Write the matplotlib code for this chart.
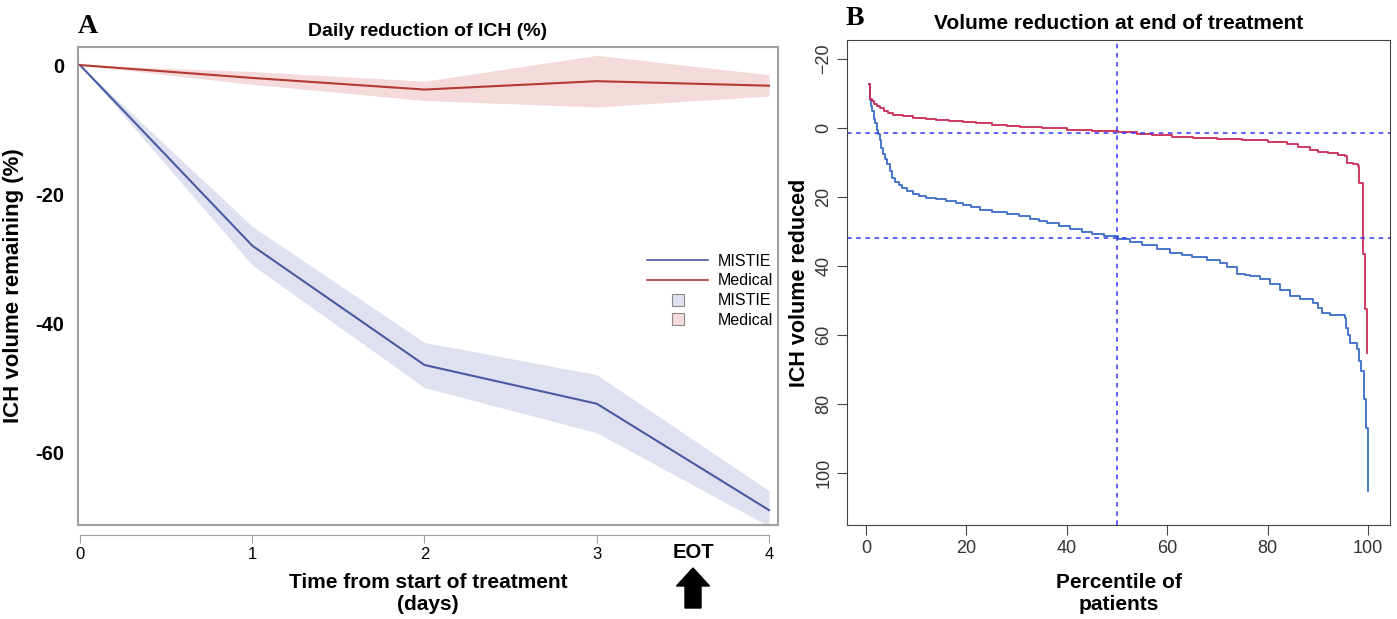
import numpy as np
import matplotlib
matplotlib.use("Agg")
import matplotlib.pyplot as plt
from matplotlib.lines import Line2D
from matplotlib.patches import Rectangle, FancyArrow

plt.rcParams['font.family'] = ['Liberation Sans', 'DejaVu Sans']

# --- Panel A data: daily reduction of ICH (%) ---
days = [0, 1, 2, 3, 4]
mistie_mean = [0, -28, -46.5, -52.5, -69]
mistie_hi = [0, -25, -43, -48, -66]
mistie_lo = [0, -31, -50, -57, -71.5]
medical_mean = [0, -2, -3.8, -2.5, -3.2]
medical_hi = [0, -1, -2.5, 1.5, -1.5]
medical_lo = [0, -3, -5.5, -6.5, -4.8]

# --- Panel B data: volume reduced by percentile of patients ---
mistie_pct = [0.5, 0.7, 1.0, 1.2, 1.5, 1.8, 2.1, 2.4, 2.7, 3.0, 3.4, 3.8, 4.2, 4.7,
              5.2, 5.8, 6.5, 7.2, 8.2, 9.4, 10.5, 12, 14, 16, 18, 19.3, 21, 22.7, 25,
              28, 30.5, 32.7, 34.5, 36, 38.5, 40.6, 43, 45, 47.5, 50.2, 52.5, 55, 58,
              60.6, 63, 65, 68, 70.5, 72, 73.9, 75.5, 76.5, 78.5, 80.5, 82.5, 84.5,
              86.5, 89, 90, 90.8, 92.5, 95.4, 95.6, 96, 96.4, 97.8, 98.2, 98.6, 99.2,
              99.6, 100]
mistie_red = [-12.8, -8, -6.5, -5, -2.5, -1.4, 0.5, 1.7, 3.5, 5.8, 7.5, 9, 10.4, 12.5,
              14.5, 15.5, 16.5, 17.4, 18.3, 19.1, 19.6, 20.2, 20.7, 21.2, 21.8, 22.3,
              23, 23.8, 24.3, 24.9, 25.6, 26.4, 27, 27.5, 28.3, 29.3, 30, 30.7, 31.4,
              32.2, 33, 34, 35, 36.2, 36.9, 37.5, 38.3, 39.1, 40.2, 42.3, 42.6, 42.9,
              43.8, 45.2, 47, 48.7, 49.5, 50.7, 52, 53.6, 54.3, 55, 58, 60, 62.3, 64,
              67.5, 70.4, 78.5, 87, 105.2]
medical_pct = [0.5, 0.7, 1.1, 1.5, 2.2, 2.8, 3.5, 4.3, 5.4, 7.3, 9.4, 12, 14, 16.5,
               19.3, 22, 25, 28, 30.7, 35, 40, 45, 50.2, 54, 57, 61, 65.1, 70, 75, 80,
               83.9, 86, 88.4, 90, 92, 94, 95.4, 95.8, 97.0, 98.0, 98.3, 99.0, 99.4,
               99.8]
medical_red = [-12.8, -8.4, -7.8, -7, -6.4, -5.8, -5, -4.3, -3.8, -3.4, -2.9, -2.6,
               -2.3, -2, -1.7, -1.4, -1, -0.6, -0.3, 0.1, 0.5, 0.9, 1.3, 1.7, 2, 2.5,
               2.9, 3.2, 3.6, 4.1, 4.6, 5.5, 6.4, 6.9, 7.3, 7.7, 8.1, 10.1, 10.5, 11.0,
               15.9, 36.5, 52.5, 65.2]
median_pct = 50
median_mistie = 32
median_medical = 1.5

fig = plt.figure(figsize=(13.97, 6.19), dpi=100)

# ---------------- Panel A ----------------
axA = fig.add_axes([0.0558, 0.1519, 0.5011, 0.7722])
axA.fill_between(days, mistie_lo, mistie_hi, color='#dfe1f0', lw=0)
axA.fill_between(days, medical_lo, medical_hi, color='#f5dadb', lw=0)
axA.plot(days, mistie_mean, color='#4a5aa0', lw=1.5)
axA.plot(days, medical_mean, color='#b23a35', lw=1.5)
axA.set_xlim(-0.0116, 4.052)
axA.set_ylim(-71.3, 2.8)
axA.set_yticks([0, -20, -40, -60])
axA.set_yticklabels(['0', '-20', '-40', '-60'], fontweight='bold', fontsize=14.5)
axA.tick_params(axis='y', length=0, pad=10)
axA.set_xticks(days)
axA.tick_params(axis='x', length=6, color='#a0a0a0', labelsize=12, pad=3)
for s in ['left', 'top', 'right']:
    axA.spines[s].set_visible(False)
axA.spines['bottom'].set_position(('outward', 7))
axA.spines['bottom'].set_bounds(0, 4)
axA.spines['bottom'].set_color('#a0a0a0')
axA.add_patch(Rectangle((0, 0), 1, 1, transform=axA.transAxes, fill=False,
                        edgecolor='#a0a0a0', lw=1.5, clip_on=False))
axA.set_title('Daily reduction of ICH (%)', fontweight='bold', fontsize=14, pad=8)
axA.set_ylabel('ICH volume remaining (%)', fontweight='bold', fontsize=16, labelpad=8)
axA.set_xlabel('Time from start of treatment\n(days)', fontweight='bold', fontsize=15,
               labelpad=8, linespacing=1.2)
handles = [Line2D([], [], color='#4a5aa0', lw=1.2),
           Line2D([], [], color='#b23a35', lw=1.2),
           Line2D([], [], marker='s', ls='none', markersize=9,
                  markerfacecolor='#dfe1f0', markeredgecolor='#888888', markeredgewidth=0.8),
           Line2D([], [], marker='s', ls='none', markersize=9,
                  markerfacecolor='#f5dadb', markeredgecolor='#888888', markeredgewidth=0.8)]
axA.legend(handles, ['MISTIE', 'Medical', 'MISTIE', 'Medical'], loc='center left',
           bbox_to_anchor=(0.802, 0.49), frameon=False, fontsize=11.5,
           handlelength=3.8, handletextpad=0.6, labelspacing=0.3, borderpad=0)
axA.text(3.56, -75.6, 'EOT', ha='center', va='center', fontweight='bold', fontsize=14.5,
         clip_on=False)
fig.add_artist(FancyArrow(6.93, 0.11, 0, 0.22, width=0.16, head_width=0.33,
                          head_length=0.18, color='black',
                          transform=fig.dpi_scale_trans))
fig.text(0.056, 0.957, 'A', family=['Liberation Serif', 'DejaVu Serif'],
         fontweight='bold', fontsize=20, ha='left', va='center')

# ---------------- Panel B ----------------
axB = fig.add_axes([0.6063, 0.1519, 0.3887, 0.7835])
axB.plot(mistie_pct, mistie_red, drawstyle='steps-post', color='#3a6cc8', lw=1.3)
axB.plot(medical_pct, medical_red, drawstyle='steps-post', color='#cc2a55', lw=1.3)
axB.axvline(median_pct, color='#3333ff', ls=(0, (3, 3)), lw=1.1)
axB.axhline(median_mistie, color='#3333ff', ls=(0, (3, 3)), lw=1.1)
axB.axhline(median_medical, color='#3333ff', ls=(0, (3, 3)), lw=1.1)
axB.set_xlim(-3.8, 104.4)
axB.set_ylim(115, -25.5)
axB.set_xticks([0, 20, 40, 60, 80, 100])
axB.set_yticks([-20, 0, 20, 40, 60, 80, 100])
axB.set_yticklabels(['\u221220', '0', '20', '40', '60', '80', '100'], rotation=90,
                    va='center')
axB.tick_params(length=7, color='#444444', labelcolor='#333333', labelsize=13)
for s in axB.spines.values():
    s.set_color('#444444')
axB.set_title('Volume reduction at end of treatment', fontweight='bold', fontsize=15,
              pad=8)
axB.set_ylabel('ICH volume reduced', fontweight='bold', fontsize=15.5, labelpad=4)
axB.set_xlabel('Percentile of\npatients', fontweight='bold', fontsize=15, labelpad=12,
               linespacing=1.2)
fig.text(0.605, 0.97, 'B', family=['Liberation Serif', 'DejaVu Serif'],
         fontweight='bold', fontsize=20, ha='left', va='center')

fig.savefig('out.png', dpi=100)
